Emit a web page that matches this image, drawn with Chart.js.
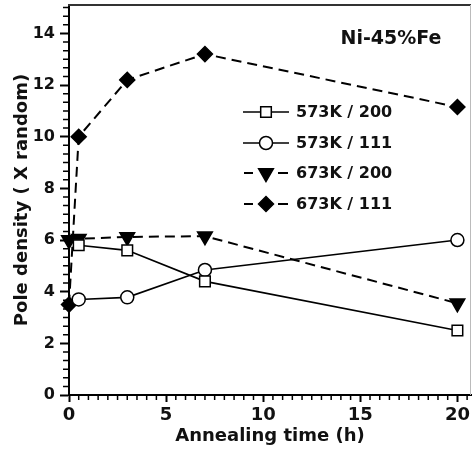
<!DOCTYPE html>
<html>
<head>
<meta charset="utf-8">
<script src="https://cdn.jsdelivr.net/npm/chart.js@4.4.1/dist/chart.umd.min.js"></script>
<style>
html,body{margin:0;padding:0;background:#fff;}
canvas{display:block;}
</style>
</head>
<body>
<canvas id="c" width="473" height="455"></canvas>
<script>
// ---- data ----
const times573 = [0.5, 3, 7, 20];
const times673 = [0, 0.5, 3, 7, 20];
const k573_200 = [5.8, 5.6, 4.4, 2.5];
const k573_111 = [3.7, 3.78, 4.84, 6.0];
const k673_200 = [6.0, 6.05, 6.12, 6.15, 3.55];
const k673_111 = [3.5, 10.0, 12.2, 13.2, 11.15];
const seriesLabels = ['573K / 200', '573K / 111', '673K / 200', '673K / 111'];
const xTicks = [0, 5, 10, 15, 20];
const yTicks = [0, 2, 4, 6, 8, 10, 12, 14];
const chartTitle = 'Ni-45%Fe';
const xTitle = 'Annealing time (h)';
const yTitle = 'Pole density ( X random)';

const FONT = '"DejaVu Sans", sans-serif';
const toPts = (xs, ys) => xs.map((x, i) => ({x: x, y: ys[i]}));

const styles = [
  {pointStyle: 'rect', radius: 7.5, bg: '#fff', dash: [], rot: 0},
  {pointStyle: 'circle', radius: 6.5, bg: '#fff', dash: [], rot: 0},
  {pointStyle: 'triangle', radius: 8.5, bg: '#000', dash: [10, 6], rot: 180},
  {pointStyle: 'rectRot', radius: 7.5, bg: '#000', dash: [10, 6], rot: 0}
];
const dataSets = [
  toPts(times573, k573_200),
  toPts(times573, k573_111),
  toPts(times673, k673_200),
  toPts(times673, k673_111)
];

const datasets = dataSets.map((d, i) => ({
  label: seriesLabels[i],
  data: d,
  borderColor: '#000',
  borderWidth: i < 2 ? 1.6 : 2,
  borderDash: styles[i].dash,
  pointStyle: styles[i].pointStyle,
  pointRadius: styles[i].radius,
  pointRotation: styles[i].rot,
  pointBackgroundColor: styles[i].bg,
  pointBorderColor: '#000',
  pointBorderWidth: 1.5,
  fill: false,
  tension: 0,
  clip: false
}));

const zeroPad = s => { s.paddingTop = 0; s.paddingBottom = 0; s.paddingLeft = 0; s.paddingRight = 0; };

const decor = {
  id: 'decor',
  afterDraw(chart) {
    const ctx = chart.ctx;
    const a = chart.chartArea;
    const xs = chart.scales.x, ys = chart.scales.y;
    ctx.save();
    // frame top and right
    ctx.strokeStyle = '#333';
    ctx.lineWidth = 2;
    ctx.beginPath();
    ctx.moveTo(a.left - 1, a.top);
    ctx.lineTo(a.right, a.top);
    ctx.stroke();
    ctx.strokeStyle = '#bbb';
    ctx.lineWidth = 1;
    ctx.beginPath();
    ctx.moveTo(a.right - 0.5, a.top);
    ctx.lineTo(a.right - 0.5, a.bottom);
    ctx.stroke();
    // minor ticks
    ctx.strokeStyle = '#000';
    ctx.lineWidth = 1.5;
    ctx.beginPath();
    for (let k = 1; k * 0.5 <= xs.max; k++) {
      if (k % 10 === 0) continue;
      const px = xs.getPixelForValue(k * 0.5);
      ctx.moveTo(px, a.bottom);
      ctx.lineTo(px, a.bottom + 5);
    }
    for (let k = 1; k / 3 <= ys.max; k++) {
      if (k % 6 === 0) continue;
      const py = ys.getPixelForValue(k / 3);
      ctx.moveTo(a.left, py);
      ctx.lineTo(a.left - 6, py);
    }
    ctx.stroke();
    // title
    ctx.fillStyle = '#111';
    ctx.font = 'bold 19px ' + FONT;
    ctx.textAlign = 'center';
    ctx.textBaseline = 'middle';
    ctx.fillText(chartTitle, 391, 39);
    // legend
    const rows = [112, 143, 173, 204];
    chart.data.datasets.forEach((ds, i) => {
      const y = rows[i];
      const cx = 266;
      ctx.strokeStyle = '#000';
      ctx.lineWidth = ds.borderWidth;
      ctx.setLineDash([]);
      ctx.beginPath();
      if (i < 2) {
        ctx.moveTo(243, y); ctx.lineTo(289, y);
      } else {
        ctx.moveTo(244, y); ctx.lineTo(253, y);
        ctx.moveTo(278, y); ctx.lineTo(288, y);
      }
      ctx.stroke();
      ctx.fillStyle = ds.pointBackgroundColor;
      ctx.lineWidth = ds.pointBorderWidth;
      Chart.helpers.drawPoint(ctx, {
        pointStyle: ds.pointStyle,
        rotation: ds.pointRotation,
        radius: ds.pointRadius,
        borderWidth: ds.pointBorderWidth
      }, cx, y);
      ctx.fillStyle = '#111';
      ctx.font = 'bold 16px ' + FONT;
      ctx.textAlign = 'left';
      ctx.textBaseline = 'middle';
      ctx.fillText(ds.label, 296, y + 0.5);
    });
    ctx.restore();
  }
};

new Chart(document.getElementById('c'), {
  type: 'line',
  data: {datasets: datasets},
  options: {
    responsive: false,
    devicePixelRatio: 1,
    animation: false,
    layout: {autoPadding: false, padding: {top: 5, right: 2, left: 0, bottom: 0}},
    plugins: {legend: {display: false}, tooltip: {enabled: false}},
    scales: {
      x: {
        type: 'linear',
        min: 0,
        max: 20.7,
        afterFit: s => { s.height = 60; zeroPad(s); },
        afterBuildTicks: s => { s.ticks = xTicks.map(v => ({value: v})); },
        ticks: {
          color: '#111',
          font: {family: FONT, size: 18, weight: 'bold', lineHeight: 1.2},
          padding: 3,
          maxRotation: 0,
          autoSkip: false
        },
        grid: {drawOnChartArea: false, tickLength: 7, tickWidth: 2, tickColor: '#000'},
        border: {color: '#000', width: 2},
        title: {
          display: true,
          text: xTitle,
          color: '#111',
          font: {family: FONT, size: 18, weight: 'bold', lineHeight: 1.2},
          padding: {top: 0, bottom: 8}
        }
      },
      y: {
        type: 'linear',
        min: 0,
        max: 15.1,
        afterFit: s => { s.width = 69; zeroPad(s); },
        afterBuildTicks: s => { s.ticks = yTicks.map(v => ({value: v})); },
        ticks: {
          color: '#111',
          font: {family: FONT, size: 16, weight: 'bold', lineHeight: 1.2},
          padding: 5,
          autoSkip: false
        },
        grid: {drawOnChartArea: false, tickLength: 9, tickWidth: 2, tickColor: '#000'},
        border: {color: '#000', width: 2},
        title: {
          display: true,
          text: yTitle,
          color: '#111',
          font: {family: FONT, size: 18, weight: 'bold', lineHeight: 1.2},
          padding: {top: 12, bottom: 0}
        }
      }
    }
  },
  plugins: [decor]
});
</script>
</body>
</html>
